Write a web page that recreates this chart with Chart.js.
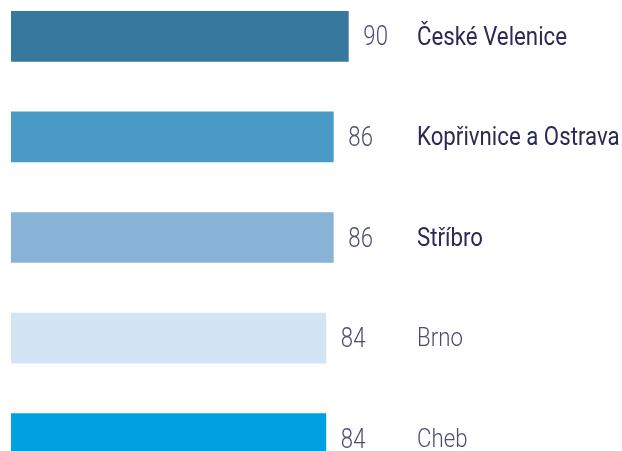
<!DOCTYPE html>
<html>
<head>
<meta charset="utf-8">
<script src="https://cdn.jsdelivr.net/npm/chart.js@4"></script>
<style>
  html, body { margin: 0; padding: 0; background: #fff; overflow: hidden; }
  #wrap { position: absolute; left: 0; top: -14px; width: 622px; height: 503px; }
</style>
</head>
<body>
<div id="wrap"><canvas id="graf"></canvas></div>
<script>
// datos
const mesta = ['České Velenice', 'Kopřivnice a Ostrava', 'Stříbro', 'Brno', 'Cheb'];
const hodnoty = [90, 86, 86, 84, 84];
const barvy = ['#36789e', '#4a9ac8', '#88b3d6', '#d3e4f5', '#00a0e1'];
const tucne = [true, true, true, false, false];

// text zuzeny do sirky (jako condensed pismo)
function uzkyText(ctx, text, x, y, sx) {
    ctx.save();
    ctx.translate(x, y);
    ctx.scale(sx, 1);
    ctx.fillText(text, 0, 0);
    ctx.restore();
}

// popisky vedle sloupcu
const popisky = {
    id: 'popisky',
    afterDatasetsDraw(chart) {
        const ctx = chart.ctx;
        const meta = chart.getDatasetMeta(0);
        ctx.save();
        ctx.textBaseline = 'middle';
        ctx.textAlign = 'left';
        meta.data.forEach((bar, i) => {
            ctx.font = '300 28px Roboto';
            ctx.fillStyle = '#4d4d6e';
            uzkyText(ctx, String(hodnoty[i]), bar.x + 15, bar.y + 2, 0.79);

            ctx.font = (tucne[i] ? '400 ' : '300 ') + '25px Roboto';
            ctx.fillStyle = tucne[i] ? '#2a2a55' : '#4d4d6e';
            uzkyText(ctx, mesta[i], 417, bar.y + 2, 0.89);
        });
        ctx.restore();
    }
};

new Chart(document.getElementById('graf'), {
    type: 'bar',
    data: {
        labels: mesta,
        datasets: [{
            data: hodnoty,
            backgroundColor: barvy,
            borderWidth: 0,
            barThickness: 50
        }]
    },
    options: {
        indexAxis: 'y',
        responsive: true,
        maintainAspectRatio: false,
        animation: false,
        layout: { padding: { left: 11, right: 0, top: 0, bottom: 0 } },
        scales: {
            x: { display: false, min: 0, max: 163 },
            y: { display: false }
        },
        plugins: {
            legend: { display: false },
            tooltip: { enabled: false }
        }
    },
    plugins: [popisky]
});
</script>
</body>
</html>
